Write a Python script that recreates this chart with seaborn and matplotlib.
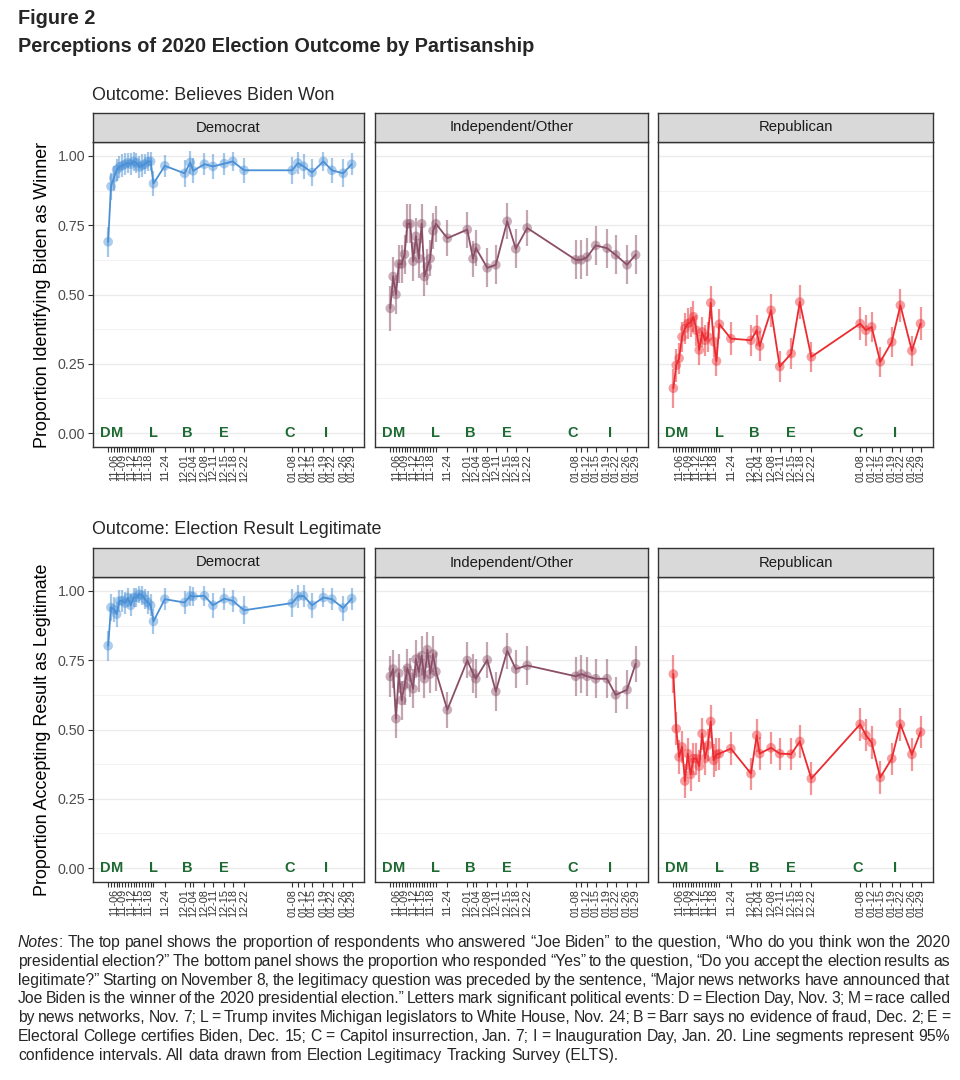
import numpy as np
import pandas as pd
import matplotlib
matplotlib.use("Agg")
import matplotlib.pyplot as plt
import matplotlib.dates as mdates
from matplotlib import font_manager
import seaborn as sns

# ---------------- data ----------------
survey_dates = ["2020-11-04", "2020-11-05", "2020-11-06", "2020-11-07", "2020-11-08",
                "2020-11-09", "2020-11-10", "2020-11-11", "2020-11-12", "2020-11-13",
                "2020-11-14", "2020-11-15", "2020-11-16", "2020-11-17", "2020-11-18",
                "2020-11-19", "2020-11-20", "2020-11-24",
                "2020-12-01", "2020-12-03", "2020-12-04", "2020-12-08", "2020-12-11",
                "2020-12-15", "2020-12-18", "2020-12-22",
                "2021-01-08", "2021-01-10", "2021-01-12", "2021-01-15", "2021-01-19",
                "2021-01-22", "2021-01-26", "2021-01-29"]
tick_labels = ["", "", "11-06", "", "", "11-09", "", "", "11-12", "", "", "11-15", "", "",
               "11-18", "", "", "11-24",
               "12-01", "", "12-04", "12-08", "12-11", "12-15", "12-18", "12-22",
               "01-08", "", "01-12", "01-15", "01-19", "01-22", "01-26", "01-29"]

parties = ["Democrat", "Independent/Other", "Republican"]
outcomes = ["Outcome: Believes Biden Won", "Outcome: Election Result Legitimate"]
y_titles = ["Proportion Identifying Biden as Winner", "Proportion Accepting Result as Legitimate"]

won_dem = [0.69, 0.89, 0.92, 0.95, 0.96, 0.965, 0.97, 0.975, 0.97, 0.98, 0.975, 0.96, 0.965,
           0.97, 0.98, 0.98, 0.90, 0.964,
           0.937, 0.976, 0.946, 0.97, 0.962, 0.972, 0.98, 0.948,
           0.948, 0.974, 0.962, 0.94, 0.98, 0.948, 0.937, 0.97]
won_ind = [0.45, 0.565, 0.50, 0.61, 0.61, 0.645, 0.755, 0.755, 0.62, 0.71, 0.63, 0.755, 0.565,
           0.60, 0.63, 0.73, 0.755, 0.703,
           0.734, 0.629, 0.668, 0.596, 0.607, 0.764, 0.665, 0.74,
           0.625, 0.625, 0.635, 0.677, 0.667, 0.643, 0.607, 0.643]
won_rep = [0.162, 0.245, 0.27, 0.347, 0.377, 0.395, 0.40, 0.42, 0.371, 0.30, 0.365, 0.335, 0.347,
           0.47, 0.33, 0.26, 0.393, 0.341,
           0.335, 0.371, 0.314, 0.443, 0.24, 0.287, 0.473, 0.275,
           0.395, 0.371, 0.383, 0.257, 0.329, 0.461, 0.297, 0.395]
legit_dem = [0.802, 0.94, 0.934, 0.916, 0.964, 0.964, 0.956, 0.976, 0.948, 0.976, 0.976, 0.988, 0.984,
             0.97, 0.958, 0.948, 0.89, 0.97,
             0.958, 0.982, 0.98, 0.982, 0.948, 0.972, 0.964, 0.93,
             0.956, 0.98, 0.982, 0.948, 0.976, 0.97, 0.938, 0.972]
legit_ind = [0.691, 0.718, 0.539, 0.703, 0.605, 0.659, 0.721, 0.689, 0.647, 0.754, 0.707, 0.766, 0.683,
             0.788, 0.70, 0.772, 0.709, 0.571,
             0.749, 0.703, 0.683, 0.751, 0.637, 0.784, 0.718, 0.731,
             0.692, 0.70, 0.692, 0.683, 0.683, 0.625, 0.643, 0.737]
legit_rep = [0.70, 0.503, 0.401, 0.437, 0.314, 0.413, 0.338, 0.395, 0.395, 0.368, 0.485, 0.395, 0.443,
             0.529, 0.389, 0.41, 0.413, 0.431,
             0.341, 0.479, 0.413, 0.434, 0.413, 0.411, 0.457, 0.323,
             0.519, 0.479, 0.453, 0.327, 0.395, 0.519, 0.41, 0.491]

# 95% CI half-widths
ci_won_dem = [0.055, 0.05, 0.045, 0.04, 0.04, 0.04, 0.04, 0.035, 0.04, 0.035, 0.035, 0.04, 0.04,
              0.035, 0.035, 0.035, 0.045, 0.04,
              0.048, 0.04, 0.045, 0.04, 0.045, 0.04, 0.035, 0.045,
              0.048, 0.04, 0.045, 0.05, 0.035, 0.045, 0.05, 0.04]
ci_won_ind = [0.08, 0.07, 0.07, 0.07, 0.07, 0.07, 0.07, 0.07, 0.07, 0.065, 0.07, 0.07, 0.07,
              0.065, 0.065, 0.065, 0.065, 0.065,
              0.065, 0.065, 0.065, 0.07, 0.07, 0.065, 0.07, 0.065,
              0.07, 0.07, 0.07, 0.07, 0.07, 0.07, 0.07, 0.07]
ci_won_rep = [0.07, 0.06, 0.055, 0.055, 0.055, 0.055, 0.055, 0.055, 0.055, 0.055, 0.055, 0.055, 0.055,
              0.06, 0.055, 0.055, 0.055, 0.06,
              0.055, 0.055, 0.055, 0.06, 0.055, 0.055, 0.06, 0.055,
              0.06, 0.055, 0.055, 0.055, 0.055, 0.06, 0.055, 0.06]
ci_legit_dem = [0.055, 0.05, 0.045, 0.045, 0.04, 0.04, 0.04, 0.035, 0.04, 0.035, 0.035, 0.03, 0.035,
                0.035, 0.04, 0.04, 0.045, 0.04,
                0.04, 0.035, 0.035, 0.035, 0.045, 0.04, 0.04, 0.05,
                0.05, 0.04, 0.04, 0.045, 0.035, 0.04, 0.045, 0.04]
ci_legit_ind = [0.075, 0.07, 0.07, 0.07, 0.07, 0.07, 0.07, 0.07, 0.07, 0.07, 0.07, 0.07, 0.07,
                0.065, 0.07, 0.065, 0.07, 0.065,
                0.065, 0.07, 0.07, 0.065, 0.07, 0.065, 0.07, 0.07,
                0.07, 0.07, 0.07, 0.07, 0.07, 0.065, 0.07, 0.065]
ci_legit_rep = [0.068, 0.06, 0.06, 0.058, 0.06, 0.058, 0.058, 0.058, 0.058, 0.058, 0.058, 0.058, 0.058,
                0.06, 0.06, 0.058, 0.058, 0.06,
                0.058, 0.06, 0.06, 0.058, 0.058, 0.058, 0.06, 0.06,
                0.06, 0.058, 0.058, 0.058, 0.058, 0.06, 0.06, 0.058]

event_letters = ["D", "M", "L", "B", "E", "C", "I"]
event_dates = ["2020-11-03", "2020-11-07", "2020-11-20", "2020-12-02", "2020-12-15",
               "2021-01-07", "2021-01-20"]

values = {(0, 0): (won_dem, ci_won_dem), (0, 1): (won_ind, ci_won_ind), (0, 2): (won_rep, ci_won_rep),
          (1, 0): (legit_dem, ci_legit_dem), (1, 1): (legit_ind, ci_legit_ind),
          (1, 2): (legit_rep, ci_legit_rep)}
colors = {"Democrat": "#4A90D6", "Independent/Other": "#8A4F66", "Republican": "#EC2B30"}

rows = []
for (r, c), (vals, cis) in values.items():
    for d, v, h in zip(survey_dates, vals, cis):
        rows.append(dict(outcome=outcomes[r], party=parties[c], date=pd.Timestamp(d),
                         value=v, lo=v - h, hi=v + h))
df = pd.DataFrame(rows)

# ---------------- style ----------------
sns.set_theme(style="white")
avail = {f.name for f in font_manager.fontManager.ttflist}
base_font = "Liberation Sans" if "Liberation Sans" in avail else "DejaVu Sans"
narrow_font = "Liberation Sans Narrow" if "Liberation Sans Narrow" in avail else base_font
plt.rcParams['font.family'] = [base_font, 'DejaVu Sans']

fig = plt.figure(figsize=(9.6, 10.8), dpi=100)
W, H = 960.0, 1080.0

panel_x = [(93, 364), (375, 648), (658, 933)]
row_y = [(113, 142, 447), (548, 577, 882)]   # strip top, plot top, plot bottom

ev_x = [pd.Timestamp(d) for d in event_dates]
tick_x = [pd.Timestamp(d) for d in survey_dates]
xmin = pd.Timestamp("2020-11-03") - pd.Timedelta(days=4.35)
xmax = pd.Timestamp("2021-01-29") + pd.Timedelta(days=4.35)
green = "#1D6A32"
axis_gray = "#333333"

for r in range(2):
    st, pt, pb = row_y[r]
    for c in range(3):
        x0, x1 = panel_x[c]
        ax = fig.add_axes([x0 / W, 1 - pb / H, (x1 - x0) / W, (pb - pt) / H])
        sax = fig.add_axes([x0 / W, 1 - pt / H, (x1 - x0) / W, (pt - st) / H])
        party = parties[c]
        col = colors[party]
        sub = df[(df.outcome == outcomes[r]) & (df.party == party)].sort_values("date")

        ax.vlines(sub["date"], sub["lo"], sub["hi"], color=col, alpha=0.5, lw=1.6, zorder=2)
        sns.lineplot(data=sub, x="date", y="value", color=col, lw=1.3, ax=ax,
                     estimator=None, sort=True, zorder=3)
        sns.scatterplot(data=sub, x="date", y="value", color=col, s=48, alpha=0.45,
                        edgecolor="none", ax=ax, zorder=4)
        for L, d in zip(event_letters, ev_x):
            ax.text(d, 0, L, ha="center", va="center", color=green, fontweight="bold",
                    fontsize=10.5, zorder=5)

        ax.set_xlim(xmin, xmax)
        ax.set_ylim(-0.05, 1.05)
        ax.set_yticks([0, 0.25, 0.5, 0.75, 1.0])
        ax.set_yticks([0.125, 0.375, 0.625, 0.875], minor=True)
        ax.yaxis.grid(True, which="major", color="#EBEBEB", lw=1.0, zorder=0)
        ax.yaxis.grid(True, which="minor", color="#F2F2F2", lw=0.7, zorder=0)
        ax.xaxis.grid(False)
        ax.set_axisbelow(True)
        ax.set_xticks(tick_x)
        ax.set_xticklabels(tick_labels, rotation=90, fontsize=7.8, color="#333333")
        ax.tick_params(axis="x", which="major", length=3.5, width=0.8, color=axis_gray,
                       bottom=True, pad=1.5)
        if c == 0:
            ax.set_yticklabels(["0.00", "0.25", "0.50", "0.75", "1.00"], fontsize=10.3,
                               color="#4D4D4D")
            ax.tick_params(axis="y", which="major", length=3.5, width=0.8, color=axis_gray,
                           left=True, pad=2)
            ax.tick_params(axis="y", which="minor", length=0, left=False)
            ax.set_ylabel(y_titles[r], fontsize=12.9, color="black", labelpad=5)
        else:
            ax.set_yticklabels([])
            ax.tick_params(axis="y", which="both", length=0, left=False)
            ax.set_ylabel("")
        ax.set_xlabel("")
        for s in ax.spines.values():
            s.set_color(axis_gray)
            s.set_linewidth(1.0)

        sax.set_facecolor("#D9D9D9")
        sax.set_xticks([]); sax.set_yticks([])
        for s in sax.spines.values():
            s.set_color(axis_gray)
            s.set_linewidth(1.0)
        sax.text(0.5, 0.5, party, ha="center", va="center", fontsize=10.7, color="#1A1A1A",
                 transform=sax.transAxes)

    ttl_y = 96 if r == 0 else 529
    fig.text(92 / W, 1 - ttl_y / H, outcomes[r], ha="left", va="center", fontsize=12.9)

fig.text(18 / W, 1 - 18 / H, "Figure 2", ha="left", va="center", fontsize=14.3,
         fontweight="bold")
fig.text(18 / W, 1 - 46 / H, "Perceptions of 2020 Election Outcome by Partisanship",
         ha="left", va="center", fontsize=14.3, fontweight="bold")

# ---------------- notes (justified) ----------------
note_lines = [
    [("Notes", "italic"), (": The top panel shows the proportion of respondents who answered \u201cJoe Biden\u201d to the question, \u201cWho do you think won the 2020", "normal")],
    [("presidential election?\u201d The bottom panel shows the proportion who responded \u201cYes\u201d to the question, \u201cDo you accept the election results as", "normal")],
    [("legitimate?\u201d Starting on November 8, the legitimacy question was preceded by the sentence, \u201cMajor news networks have announced that", "normal")],
    [("Joe Biden is the winner of the 2020 presidential election.\u201d Letters mark significant political events: D = Election Day, Nov. 3; M = race called", "normal")],
    [("by news networks, Nov. 7; L = Trump invites Michigan legislators to White House, Nov. 24; B = Barr says no evidence of fraud, Dec. 2; E =", "normal")],
    [("Electoral College certifies Biden, Dec. 15; C = Capitol insurrection, Jan. 7; I = Inauguration Day, Jan. 20. Line segments represent 95%", "normal")],
    [("confidence intervals. All data drawn from Election Legitimacy Tracking Survey (ELTS).", "normal")],
]
note_fs = 11.3
left_px, right_px = 18, 950
base_y0, line_dy = 947, 18.8
fig.canvas.draw()
rend = fig.canvas.get_renderer()


def measure(s, style):
    t = fig.text(0, 0, s, fontsize=note_fs, family=narrow_font, style=style)
    w = t.get_window_extent(rend).width
    t.remove()
    return w


space_w = measure("a a", "normal") - measure("aa", "normal")
for i, frags in enumerate(note_lines):
    words = []
    cur = []
    for txt, sty in frags:
        parts = txt.split(" ")
        for j, p in enumerate(parts):
            if j > 0:
                if cur:
                    words.append(cur)
                cur = []
            if p:
                cur.append((p, sty))
    if cur:
        words.append(cur)
    widths = [sum(measure(p, s) for p, s in w) for w in words]
    total = sum(widths)
    last = (i == len(note_lines) - 1)
    gap = space_w if last else (right_px - left_px - total) / (len(words) - 1)
    x = left_px
    y = 1 - (base_y0 + i * line_dy) / H
    for w, wd in zip(words, widths):
        xx = x
        for p, s in w:
            fig.text(xx / W, y, p, fontsize=note_fs, family=narrow_font, style=s,
                     ha="left", va="baseline")
            xx += measure(p, s)
        x += wd + gap

fig.savefig("out.png", dpi=100)
